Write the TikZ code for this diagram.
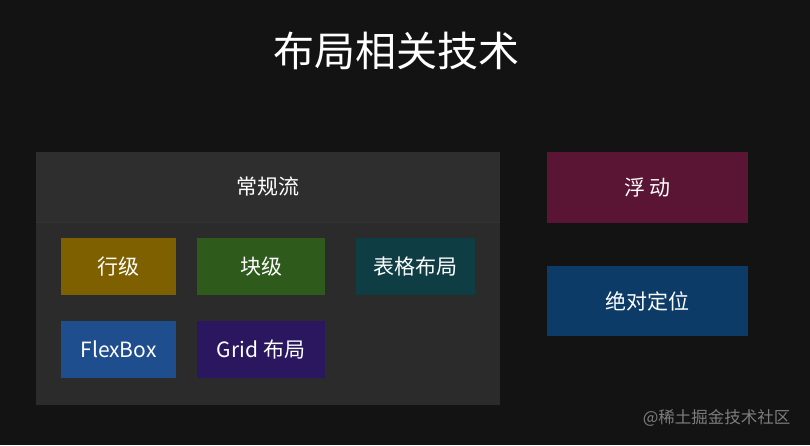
\documentclass[tikz,border=0pt]{standalone}
\usepackage{fontspec}
\newfontfamily\cjk{Noto Sans CJK SC}
\definecolor{bg}{HTML}{131313}
\definecolor{panel}{HTML}{2B2B2B}
\definecolor{panelhead}{HTML}{2E2E2E}
\definecolor{inlinec}{HTML}{7F6000}
\definecolor{blockc}{HTML}{2E5A1C}
\definecolor{tablec}{HTML}{0E3D44}
\definecolor{flexc}{HTML}{1F4E8F}
\definecolor{gridc}{HTML}{2A1760}
\definecolor{floatc}{HTML}{5A1535}
\definecolor{absc}{HTML}{0B3B66}
\tikzset{
  box/.style={inner sep=0pt, text=white, font=\cjk\fontsize{21}{24}\selectfont},
}
\begin{document}
\begin{tikzpicture}[x=1pt,y=-1pt]
                \fill[bg] (0,0) rectangle (810,445);
                \useasboundingbox (0,0) rectangle (810,445);

                \node[text=white, font=\cjk\fontsize{41}{45}\selectfont] (title) at (396,51) {布局相关技术};

                \node[box, fill=panel, minimum width=464pt, minimum height=253pt] (flow) at (268,278.5) {};
                \node[box, fill=panelhead, minimum width=464pt, minimum height=70pt] (flowhead) at (268,187) {常规流};
                \draw[black!80, line width=1pt] (flowhead.south west) -- (flowhead.south east);

                \node[box, fill=inlinec, minimum width=115pt, minimum height=57pt] (inline) at (118.5,266.5) {行级};
                \node[box, fill=blockc, minimum width=128pt, minimum height=57pt] (block) at (261,266.5) {块级};
                \node[box, fill=tablec, minimum width=119pt, minimum height=57pt] (table) at (415.5,266.5) {表格布局};
                \node[box, fill=flexc, minimum width=115pt, minimum height=57pt] (flex) at (118.5,349.5) {FlexBox};
                \node[box, fill=gridc, minimum width=128pt, minimum height=57pt] (grid) at (261,349.5) {Grid 布局};

                \node[box, fill=floatc, minimum width=201pt, minimum height=71pt] (float) at (647.5,187.5) {浮 动};
                \node[box, fill=absc, minimum width=201pt, minimum height=70pt] (abs) at (647.5,301) {绝对定位};

                \node[text=white!45!bg, font=\cjk\fontsize{16.5}{19}\selectfont, anchor=east] (mark) at (794,418) {@稀土掘金技术社区};
\end{tikzpicture}
\end{document}
